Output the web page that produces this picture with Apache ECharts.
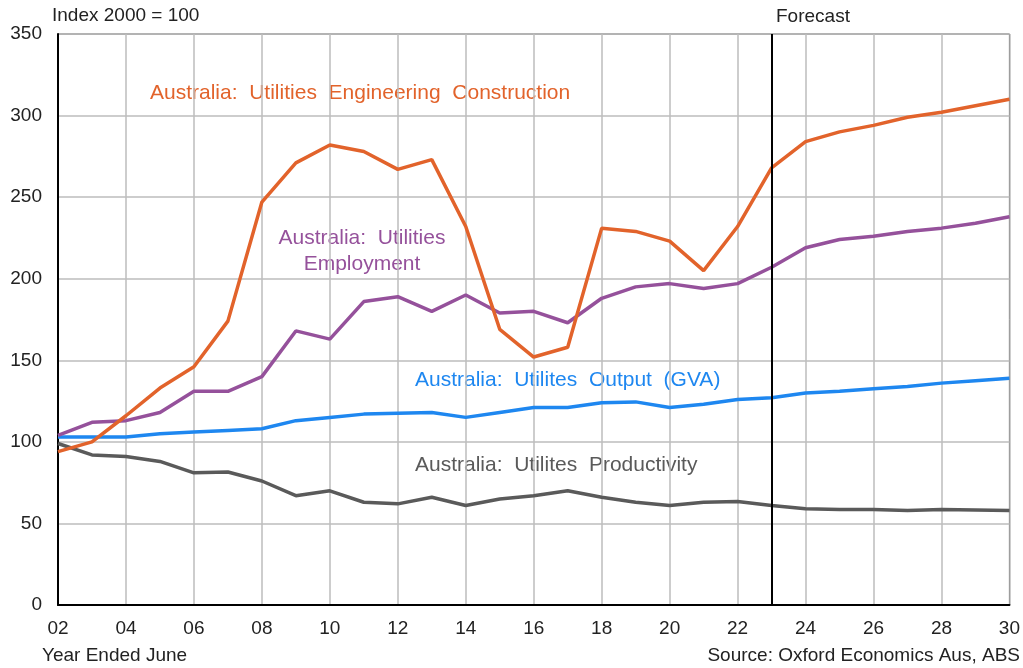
<!DOCTYPE html>
<html>
<head>
<meta charset="utf-8">
<script src="https://cdn.jsdelivr.net/npm/echarts@6/dist/echarts.min.js"></script>
<style>
  html, body { margin: 0; padding: 0; background: #fff; }
  #chart { width: 1023px; height: 668px; }
</style>
</head>
<body>
<div id="chart"></div>
<script>
// year ended June, 2002..2030
var years = [2002,2003,2004,2005,2006,2007,2008,2009,2010,2011,2012,2013,2014,2015,2016,
             2017,2018,2019,2020,2021,2022,2023,2024,2025,2026,2027,2028,2029,2030];
var engConstruction = [94,100,116,133,146,174,247,271,282,278,267,273,232,169,152,
                       158,231,229,223,205,232,268,284,290,294,299,302,306,310];
var employment = [104,112,113,118,131,131,140,168,163,186,189,180,190,179,180,
                  173,188,195,197,194,197,207,219,224,226,229,231,234,238];
var output = [103,103,103,105,106,107,108,113,115,117,117.5,118,115,118,121,
              121,124,124.5,121,123,126,127,130,131,132.5,134,136,137.5,139];
var productivity = [99,92,91,88,81,81.5,76,67,70,63,62,66,61,65,67,
                    70,66,63,61,63,63.5,61,59,58.5,58.5,58,58.5,58.3,58];
var forecastStart = 2023;

var font = 'Liberation Sans, Arial, sans-serif';

function pairs(vals) {
    return vals.map(function (v, i) { return [years[i], v]; });
}

var myChart = echarts.init(document.getElementById('chart'));
function lineSeries(name, data, color, extra) {
    var s = {
        name: name,
        type: 'line',
        data: pairs(data),
        symbol: 'none',
        lineStyle: { color: color, width: 3.5 },
        itemStyle: { color: color },
        z: 3
    };
    if (extra) { for (var k in extra) s[k] = extra[k]; }
    return s;
}
var option = {
    animation: false,
    backgroundColor: '#fff',
    grid: {
        left: 58, right: 13, top: 34, bottom: 63,
        show: true,
        borderColor: '#333',
        borderWidth: 1
    },
    xAxis: {
        type: 'value',
        min: 2002, max: 2030, interval: 2,
        axisLine: { lineStyle: { color: '#000', width: 2 } },
        axisTick: { show: false },
        axisLabel: {
            color: '#222', fontSize: 19, fontFamily: font, margin: 14,
            formatter: function (v) { return String(v).slice(2); }
        },
        splitLine: { show: true, lineStyle: { color: '#bcbcbc', width: 1.5 } }
    },
    yAxis: {
        type: 'value',
        min: 0, max: 350, interval: 50,
        axisLine: { show: true, lineStyle: { color: '#000', width: 2 } },
        axisTick: { show: false },
        axisLabel: { color: '#222', fontSize: 19, fontFamily: font, margin: 16 },
        splitLine: { lineStyle: { color: '#bcbcbc', width: 1.5 } }
    },
    series: [
        lineSeries('Productivity', productivity, '#5a5a5a', {
            markLine: {
                silent: true,
                symbol: 'none',
                label: { show: false },
                lineStyle: { color: '#000', width: 2, type: 'solid' },
                data: [{ xAxis: forecastStart }]
            }
        }),
        lineSeries('Output', output, '#1e87f0'),
        lineSeries('Employment', employment, '#95519b'),
        lineSeries('Engineering Construction', engConstruction, '#e2632b')
    ],
    graphic: [
        { type: 'text', left: 52, top: 6, style: { text: 'Index 2000 = 100', fill: '#222', font: '19px ' + font } },
        { type: 'text', left: 776, top: 7, style: { text: 'Forecast', fill: '#222', font: '19px ' + font } },
        { type: 'text', left: 42, top: 646, style: { text: 'Year Ended June', fill: '#222', font: '19px ' + font } },
        { type: 'text', right: 3, top: 646, style: { text: 'Source: Oxford Economics Aus, ABS', fill: '#222', font: '19px ' + font } },
        { type: 'text', left: 150, top: 83, style: { text: 'Australia:  Utilities  Engineering  Construction', fill: '#e2632b', font: '21px ' + font } },
        { type: 'text', x: 362, y: 225, style: { text: 'Australia:  Utilities\nEmployment', fill: '#95519b', font: '21px ' + font, align: 'center', verticalAlign: 'top', lineHeight: 26 } },
        { type: 'text', left: 415, top: 370, style: { text: 'Australia:  Utilites  Output  (GVA)', fill: '#1e87f0', font: '21px ' + font } },
        { type: 'text', left: 415, top: 455, style: { text: 'Australia:  Utilites  Productivity', fill: '#5a5a5a', font: '21px ' + font } }
    ]
};
myChart.setOption(option);
</script>
</body>
</html>
